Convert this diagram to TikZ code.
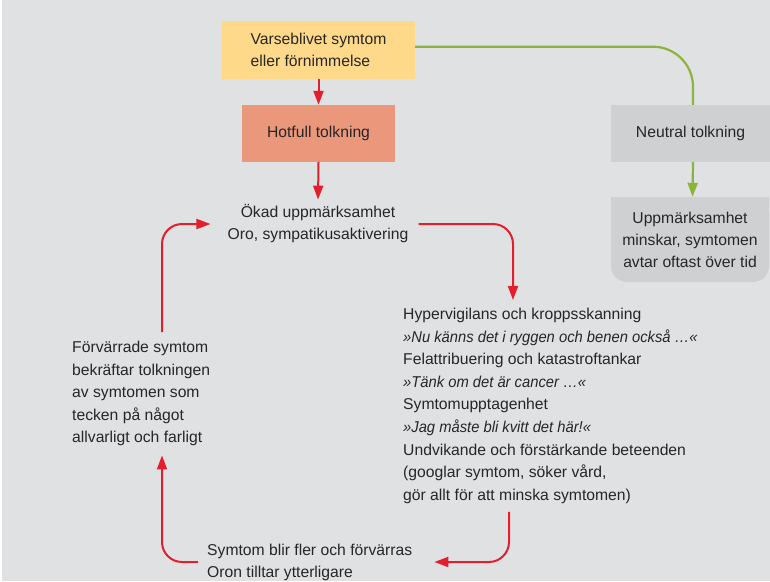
\documentclass[tikz,border=0pt]{standalone}
\usepackage{fontspec}
\setmainfont[ItalicFeatures={FakeStretch=0.94}]{Liberation Sans}
\usetikzlibrary{arrows.meta}
\definecolor{bgc}{HTML}{E0E1E3}
\definecolor{yellowc}{HTML}{FFD98A}
\definecolor{salmonc}{HTML}{EB977B}
\definecolor{grayc}{HTML}{CFD0D2}
\definecolor{redc}{HTML}{E31E2D}
\definecolor{greenc}{HTML}{8CB43C}
\definecolor{txtc}{HTML}{262626}
\tikzset{
  txt/.style={text=txtc, font=\fontsize{15.7}{22}\selectfont},
  listtxt/.style={text=txtc, font=\fontsize{15.7}{22.6}\selectfont, align=left},
  redarrow/.style={draw=redc, line width=2pt, rounded corners=20pt, -{Triangle[length=14pt,width=10pt]}},
  greenarrow/.style={draw=greenc, line width=2.2pt, rounded corners=40pt, -{Triangle[length=14pt,width=10pt]}},
  greenline/.style={draw=greenc, line width=2.2pt, rounded corners=40pt}
}
\begin{document}
\begin{tikzpicture}[x=1pt,y=-1pt]
\useasboundingbox (0,0) rectangle (770,581);
\fill[white] (0,0) rectangle (770,581);
\fill[bgc] (2,0) rectangle (770,581);

% boxes
\node[txt, fill=yellowc, minimum width=193pt, minimum height=58pt, align=left, inner sep=0pt] (var) at (318.5,50) {Varseblivet symtom\\eller förnimmelse};
\node[txt, fill=salmonc, minimum width=153pt, minimum height=57pt, inner sep=0pt] (hot) at (318.5,133.5) {Hotfull tolkning};
\node[txt, fill=grayc, minimum width=159pt, minimum height=57pt, inner sep=0pt] (neu) at (690.5,133.5) {Neutral tolkning};
\fill[grayc] (611,197) rectangle (769,240);
\node[txt, fill=grayc, minimum width=158pt, minimum height=85pt, inner sep=0pt, rounded corners=16pt, align=center] (upp) at (690,239.5) {Uppmärksamhet\\minskar, symtomen\\avtar oftast över tid};

% cycle texts
\node[txt, align=center, inner xsep=0pt, inner ysep=5pt] (okad) at (318,224) {Ökad uppmärksamhet\\Oro, sympatikusaktivering};
\node[listtxt, anchor=north west, inner xsep=0pt, inner ysep=8pt] (hyper) at (403,300) {Hypervigilans och kroppsskanning\\
\textit{»Nu känns det i ryggen och benen också …«}\\
Felattribuering och katastroftankar\\
\textit{»Tänk om det är cancer …«}\\
Symtomupptagenhet\\
\textit{»Jag måste bli kvitt det här!«}\\
Undvikande och förstärkande beteenden\\
(googlar symtom, söker vård,\\
gör allt för att minska symtomen)};
\node[listtxt, anchor=north west, inner xsep=0pt, inner ysep=9pt] (forv) at (72,332) {Förvärrade symtom\\bekräftar tolkningen\\av symtomen som\\tecken på något\\allvarligt och farligt};
\node[txt, align=left, anchor=west, inner sep=0pt] (sym) at (207,562) {Symtom blir fler och förvärras\\Oron tilltar ytterligare};

% connectors
\draw[redarrow] (var.south) -- (hot.north);
\draw[redarrow] (hot.south) -- (okad.north);
\draw[redarrow] ([xshift=10pt]okad.east) -| ([xshift=110pt]hyper.north west);
\draw[redarrow] ([xshift=106pt]hyper.south west) |- ([xshift=22pt]sym.east);
\draw[redarrow] ([xshift=-9pt]sym.west) -| ([xshift=90pt]forv.south west);
\draw[redarrow] ([xshift=90pt]forv.north west) |- ([xshift=-17pt]okad.west);
\draw[greenline] ([yshift=3.3pt]var.east) -| ([xshift=2.5pt]neu.north);
\draw[greenarrow] ([xshift=2.5pt]neu.south) -- ([xshift=2.5pt]upp.north);
\end{tikzpicture}
\end{document}
